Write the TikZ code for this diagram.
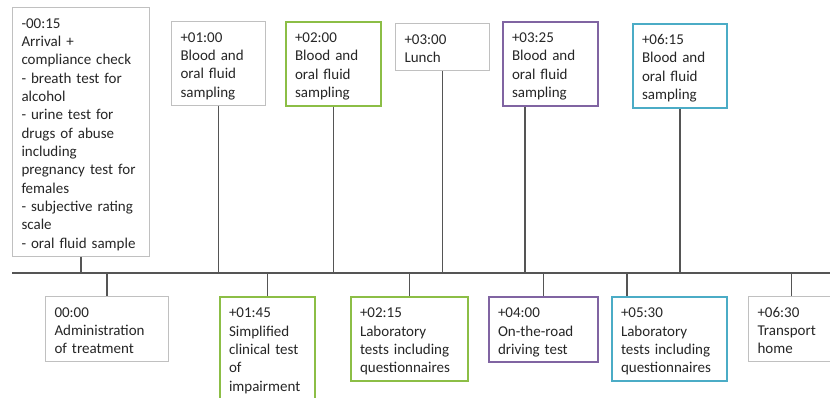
\documentclass[tikz,border=0pt]{standalone}
\usepackage{fontspec}
\setmainfont{Carlito}
\usepackage{xcolor}
\usepackage{tikz}
\definecolor{stepgreen}{HTML}{8CBE46}
\definecolor{steppurple}{HTML}{8064A2}
\definecolor{stepcyan}{HTML}{4BACC6}
\definecolor{stepgray}{HTML}{C0C0C0}
\definecolor{stepline}{HTML}{555555}

\begin{document}
\begin{tikzpicture}[x=0.75pt, y=-0.75pt, every node/.style={draw=stepgray, line width=0.75pt,
      fill=white, anchor=north west, align=left, inner xsep=6.75pt, inner ysep=3.5pt,
      text height=12pt, text=black!85, font=\fontsize{11.25}{13.75}\selectfont,
      execute at end node=\rule[-2.5pt]{0pt}{0pt}},
    grbox/.style={draw=stepgreen, line width=1.5pt},
    pubox/.style={draw=steppurple, line width=1.5pt},
    cybox/.style={draw=stepcyan, line width=1.5pt}]
    \clip (0,0) rectangle (830,398);
    \coordinate (tl) at (12,273);
    \coordinate (tr) at (840,273);
    \node[text width=89.25pt] (arrive) at (12,7) {-00:15\\Arrival +\\compliance check\\- breath test for\\alcohol\\- urine test for\\drugs of abuse\\including\\pregnancy test for\\females\\- subjective rating\\scale\\- oral fluid sample};
    \node[text width=57pt] (blood1) at (171,21) {+01:00\\Blood and\\oral fluid\\sampling};
    \node[grbox, text width=57.75pt] (blood2) at (285,21) {+02:00\\Blood and\\oral fluid\\sampling};
    \node[text width=57pt] (lunch) at (395,23) {+03:00\\Lunch};
    \node[pubox, text width=57.75pt] (blood3) at (502,21) {+03:25\\Blood and\\oral fluid\\sampling};
    \node[cybox, text width=57pt] (blood4) at (632,23) {+06:15\\Blood and\\oral fluid\\sampling};
    \node[text width=78.75pt] (admin) at (45,296) {00:00\\Administration\\of treatment};
    \node[grbox, text width=57.75pt] (clinic) at (219,296) {+01:45\\Simplified\\clinical test\\of\\impairment};
    \node[grbox, text width=74.25pt] (lab1) at (350,296) {+02:15\\Laboratory\\tests including\\questionnaires};
    \node[pubox, text width=68.25pt] (drive) at (488,296) {+04:00\\On-the-road\\driving test};
    \node[cybox, text width=72.75pt] (lab2) at (611,296) {+05:30\\Laboratory\\tests including\\questionnaires};
    \node[text width=57.75pt] (home) at (748,296) {+06:30\\Transport\\home};
    \draw[stepline, line width=0.8pt] (tl) -- (tr)
      (arrive.south) -- (arrive.south |- tl) (blood1.south) -- (blood1.south |- tl)
      (blood2.south) -- (blood2.south |- tl) (lunch.south) -- (lunch.south |- tl)
      ([xshift=17.25pt]blood3.south west) -- ([xshift=17.25pt]blood3.south west |- tl)
      (blood4.south) -- (blood4.south |- tl)
      (admin.north) -- (admin.north |- tl) (clinic.north) -- (clinic.north |- tl)
      (lab1.north) -- (lab1.north |- tl) (drive.north) -- (drive.north |- tl)
      ([xshift=12pt]lab2.north west) -- ([xshift=12pt]lab2.north west |- tl)
      ([xshift=32.5pt]home.north west) -- ([xshift=32.5pt]home.north west |- tl);
  \end{tikzpicture}
\end{document}
